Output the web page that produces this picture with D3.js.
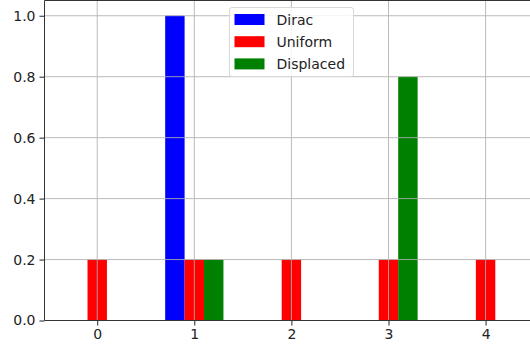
<!DOCTYPE html>
<html>
<head>
<meta charset="utf-8">
<script src="https://cdn.jsdelivr.net/npm/d3@7"></script>
<style>
  html, body { margin: 0; padding: 0; background: #fff; overflow: hidden; }
  svg { display: block; font-family: "DejaVu Sans", sans-serif; }
</style>
</head>
<body>
<svg id="chart" width="530" height="345"></svg>
<script>
// Positions on the x axis
const positions = [0, 1, 2, 3, 4];

// Probability mass for each distribution
const diracValues = [0, 1.0, 0, 0, 0];
const uniformValues = [0.2, 0.2, 0.2, 0.2, 0.2];
const displacedValues = [0, 0.2, 0, 0.8, 0];

const seriesNames = ["Dirac", "Uniform", "Displaced"];
const seriesColors = ["#0000ff", "#ff0000", "#008000"];
const seriesOffsets = [-0.2, 0, 0.2];

const xTicks = [0, 1, 2, 3, 4];
const yTicks = [0.0, 0.2, 0.4, 0.6, 0.8, 1.0];

const series = [diracValues, uniformValues, displacedValues];
const barWidth = 0.2;

const svg = d3.select("#chart");
const plot = { left: 44.5, top: 0.5, bottom: 320.5, right: 538.3 };

const x = d3.scaleLinear().domain([-0.543, 4.543]).range([plot.left, plot.right]);
const y = d3.scaleLinear().domain([0, 1.05]).range([plot.bottom, plot.top]);

// Bars
series.forEach((vals, si) => {
  svg.append("g")
    .selectAll("rect")
    .data(positions.map((p, i) => ({ p, v: vals[i] })).filter(d => d.v > 0))
    .join("rect")
    .attr("x", d => x(d.p + seriesOffsets[si] - barWidth / 2))
    .attr("width", d => x(d.p + seriesOffsets[si] + barWidth / 2) - x(d.p + seriesOffsets[si] - barWidth / 2))
    .attr("y", d => y(d.v))
    .attr("height", d => y(0) - y(d.v))
    .attr("fill", seriesColors[si]);
});

// Grid, drawn over the bars
const grid = svg.append("g").attr("stroke", "#b0b0b0").attr("stroke-width", 1).attr("opacity", 0.85);
grid.selectAll("line.v").data(xTicks).join("line")
  .attr("x1", d => x(d)).attr("x2", d => x(d))
  .attr("y1", plot.top).attr("y2", plot.bottom);
grid.selectAll("line.h").data(yTicks).join("line")
  .attr("x1", plot.left).attr("x2", plot.right)
  .attr("y1", d => y(d)).attr("y2", d => y(d));

// Axes
const xAxis = d3.axisBottom(x).tickValues(xTicks).tickFormat(d3.format("d")).tickSize(5).tickPadding(4);
const yAxis = d3.axisLeft(y).tickValues(yTicks).tickFormat(d3.format(".1f")).tickSize(5).tickPadding(4);

const gx = svg.append("g").attr("transform", `translate(0,${plot.bottom})`).call(xAxis);
const gy = svg.append("g").attr("transform", `translate(${plot.left},0)`).call(yAxis);
[gx, gy].forEach(g => {
  g.select(".domain").remove();
  g.selectAll(".tick line").attr("stroke", "#222").attr("stroke-width", 1);
  g.selectAll(".tick text").attr("fill", "#222").attr("font-size", 14)
    .attr("font-family", "DejaVu Sans, sans-serif");
});

// Spines
const spines = svg.append("g").attr("stroke", "#333").attr("stroke-width", 1).attr("fill", "none");
spines.append("line").attr("x1", plot.left).attr("x2", plot.left).attr("y1", plot.top).attr("y2", plot.bottom);
spines.append("line").attr("x1", plot.left).attr("x2", plot.right).attr("y1", plot.bottom).attr("y2", plot.bottom);
spines.append("line").attr("x1", plot.left).attr("x2", plot.right).attr("y1", plot.top).attr("y2", plot.top);
spines.append("line").attr("x1", plot.right).attr("x2", plot.right).attr("y1", plot.top).attr("y2", plot.bottom);

// Legend
const legend = svg.append("g").attr("transform", "translate(229.5,7.5)");
legend.append("rect")
  .attr("width", 124).attr("height", 69).attr("rx", 2.5)
  .attr("fill", "#fff").attr("fill-opacity", 0.85)
  .attr("stroke", "#d8d8d8").attr("stroke-width", 1);
seriesNames.forEach((name, i) => {
  const cy = 12 + i * 22.2;
  legend.append("rect")
    .attr("x", 5).attr("y", cy - 5.5)
    .attr("width", 30).attr("height", 11)
    .attr("fill", seriesColors[i]);
  legend.append("text")
    .attr("x", 47).attr("y", cy + 5)
    .attr("font-size", 14).attr("fill", "#222")
    .text(name);
});
</script>
</body>
</html>
